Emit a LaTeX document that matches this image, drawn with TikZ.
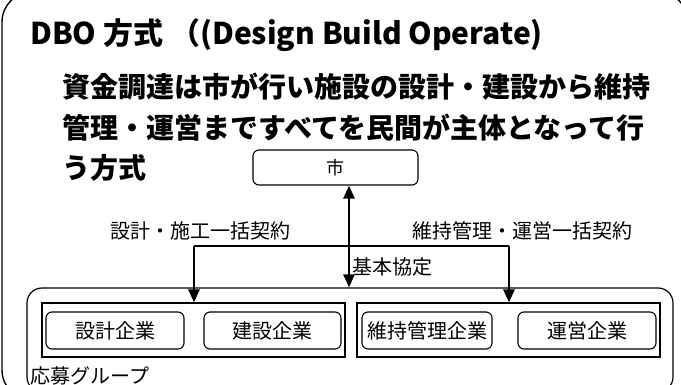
\documentclass[tikz,border=0pt]{standalone}
\usepackage{fontspec}
\setmainfont{Noto Sans CJK JP}
\usetikzlibrary{arrows.meta}
\tikzset{
  frame/.style={draw, line width=1.4pt, rounded corners=30pt},
  grp/.style={draw, line width=1.2pt, rounded corners=15pt},
  inner/.style={draw, line width=1.1pt},
  firm/.style={draw, line width=1.1pt, rounded corners=6pt, font=\fontsize{20}{24}\selectfont},
  lbl/.style={font=\fontsize{20}{24}\selectfont, inner sep=0pt},
  body/.style={font=\bfseries\fontsize{28}{34}\selectfont, inner sep=0pt, anchor=west},
  link/.style={line width=2.6pt},
  arr/.style={line width=2.6pt, -{Triangle[width=11pt,length=13pt]}},
  arrb/.style={line width=2.6pt, {Triangle[width=11pt,length=13pt]}-{Triangle[width=11pt,length=13pt]}}
}
\begin{document}
\begin{tikzpicture}[x=1pt,y=-1pt]
\useasboundingbox (0,0) rectangle (681,385);
\clip (0,0) rectangle (681,385);
% outer frame
\draw[frame] (2,-8) rectangle (688,400);
% title and text
\node[body, font=\bfseries\fontsize{30}{36}\selectfont] (title) at (30,35) {DBO 方式 （(Design Build Operate)};
\node[body] (l1) at (62,87) {資金調達は市が行い施設の設計・建設から維持};
\node[body] (l2) at (62,128) {管理・運営まですべてを民間が主体となって行};
\node[body] (l3) at (62,168) {う方式};
% city
\node[firm, minimum width=165pt, minimum height=35pt, font=\fontsize{18}{22}\selectfont] (city) at (335.5,167.5) {市};
% group
\node[grp, minimum width=646pt, minimum height=104pt] (group) at (350,340) {};
\node[inner, minimum width=303pt, minimum height=54pt] (ia) at (193.5,330) {};
\node[inner, minimum width=303pt, minimum height=54pt] (ib) at (508.5,330) {};
\node[firm, minimum width=138pt, minimum height=37pt] (f1) at (115,330.5) {設計企業};
\node[firm, minimum width=137pt, minimum height=37pt] (f2) at (272.5,330.5) {建設企業};
\node[firm, minimum width=130pt, minimum height=37pt] (f3) at (427,330.5) {維持管理企業};
\node[firm, minimum width=138pt, minimum height=37pt] (f4) at (587,330.5) {運営企業};
\node[lbl, anchor=west] (gname) at (30,376) {応募グループ};
% labels
\node[lbl, anchor=west] (lc1) at (110,231) {設計・施工一括契約};
\node[lbl, anchor=west] (lc2) at (412,231) {維持管理・運営一括契約};
\node[lbl, anchor=west] (lc3) at (352,267) {基本協定};
% connectors
\coordinate (cx) at (349,0);
\coordinate (jl) at (194,246);
\coordinate (jr) at (509,246);
\draw[arrb] (city.south -| cx) -- (group.north -| cx);
\draw[link] (jl) -- (jr);
\draw[arr] (jl) -- (jl |- ia.north);
\draw[arr] (jr) -- (jr |- ib.north);
\end{tikzpicture}
\end{document}
